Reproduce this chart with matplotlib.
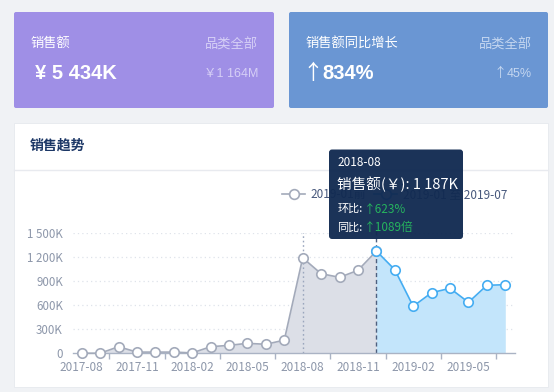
import matplotlib
matplotlib.use("Agg")
import matplotlib.pyplot as plt
from matplotlib.patches import FancyBboxPatch, Rectangle

plt.rcParams['font.family'] = ['Noto Sans CJK SC', 'DejaVu Sans']
NUMFONT = ['Liberation Sans', 'Noto Sans CJK SC', 'DejaVu Sans']

# ---------------- data ----------------
months = ["2017-08", "2017-09", "2017-10", "2017-11", "2017-12", "2018-01",
          "2018-02", "2018-03", "2018-04", "2018-05", "2018-06", "2018-07",
          "2018-08", "2018-09", "2018-10", "2018-11", "2018-12", "2019-01",
          "2019-02", "2019-03", "2019-04", "2019-05", "2019-06", "2019-07"]
sales_k = [1, 1, 82, 15, 15, 15, 5, 82, 99, 124, 112, 164,
           1187, 990, 945, 1032, 1272, 1040, 585, 754, 808, 634, 846, 853]
split_idx = 16  # first index of the second series
series_names = ["2019-01前", "2019-01 至 2019-07"]
y_ticks = [0, 300, 600, 900, 1200, 1500]
y_tick_labels = ["0", "300K", "600K", "900K", "1 200K", "1 500K"]
x_label_step = 3

card_titles = ["销售额", "销售额同比增长"]
card_arrows = ["", "↑"]
card_values = ["¥ 5 434K", "834%"]
card_sub_titles = ["品类全部", "品类全部"]
card_sub_arrows = ["", "↑"]
card_sub_values = ["￥1 164M", "45%"]
panel_title = "销售趋势"

tip_month = "2018-08"
tip_value = "销售额(￥): 1 187K"
tip_mom = "↑623%"
tip_yoy = "↑1089倍"
tip_idx = 12
hover_idx = 16

# ---------------- figure ----------------
W, H = 554, 392
fig = plt.figure(figsize=(W / 100, H / 100), dpi=100)
fig.patch.set_facecolor("#f0f2f5")

bg = fig.add_axes([0, 0, 1, 1], zorder=0)
bg.set_xlim(0, W); bg.set_ylim(H, 0); bg.axis("off")

# cards
card_boxes = [(14, 12, 260, 96, "#9f8fe6", "#d6cff6"), (289, 12, 259, 96, "#6a96d3", "#c4d6f0")]
for i, (x, y, w, h, col, sub) in enumerate(card_boxes):
    bg.add_patch(FancyBboxPatch((x, y), w, h, boxstyle="round,pad=0,rounding_size=2",
                                fc=col, ec="none"))
    bg.text(x + 16, 43, card_titles[i], color="white", fontsize=9.5, va="center", ha="left")
    vx = x + 21
    if card_arrows[i]:
        bg.text(x + 13, 73, card_arrows[i], color="white", fontsize=15, va="center", ha="left")
        vx = x + 33
    bg.text(vx, 73.5, card_values[i], color="white", fontsize=14.5,
            fontweight="bold", va="center", ha="left", family=NUMFONT)
    bg.text(x + w - 16, 45.5, card_sub_titles[i], color=sub, fontsize=9.5, va="center", ha="right")
    t = bg.text(x + w - 16, 73.5, card_sub_values[i], color=sub, fontsize=9, va="center", ha="right",
                family=NUMFONT)
    if card_sub_arrows[i]:
        bg.text(x + w - 41, 73, card_sub_arrows[i], color=sub, fontsize=9.5, va="center", ha="right")

# panel
bg.add_patch(Rectangle((14, 123), 534, 264, fc="white", ec="#e6e9ee", lw=0.6))
bg.plot([14, 548], [169.5, 169.5], color="#e8eaef", lw=1)
bg.text(30, 146, panel_title, color="#1c3766", fontsize=10, fontweight="bold", va="center", ha="left")

# legend (manual)
gray_line = "#a3aaba"
blue_line = "#45adf2"
bg.plot([282, 305], [194, 194], color=gray_line, lw=1.2)
bg.plot([293.5], [194], marker="o", ms=7, mfc="white", mec=gray_line, mew=1.2)
bg.text(310, 194.5, series_names[0], color="#47587c", fontsize=8.5, va="center", ha="left")
bg.plot([374, 397], [194, 194], color=blue_line, lw=1.2)
bg.plot([385.5], [194], marker="o", ms=7, mfc="white", mec=blue_line, mew=1.2)
bg.text(403, 194.5, series_names[1], color="#47587c", fontsize=8.5, va="center", ha="left")

# ---------------- chart ----------------
x0, x1 = 72.5, 514.5
ybot, ytop = 353.3, 232.7
ax = fig.add_axes([x0 / W, 1 - ybot / H, (x1 - x0) / W, (ybot - ytop) / H], zorder=1)
ax.patch.set_alpha(0)
n = len(months)
xs = list(range(n))
ax.set_xlim(-0.5, n - 0.5)
ax.set_ylim(0, 1500)

for s in ["top", "right", "left"]:
    ax.spines[s].set_visible(False)
ax.spines["bottom"].set_color("#aab3c4")
ax.spines["bottom"].set_linewidth(1)

for yv in y_ticks[1:]:
    ax.axhline(yv, color="#dfe3ea", lw=0.9, ls=(0, (1, 2.5)), zorder=0)

ax.set_yticks(y_ticks)
ax.set_yticklabels(y_tick_labels)
ax.tick_params(axis="y", length=0, pad=7, labelsize=8.3, labelcolor="#8d97aa")

lab_pos = xs[::x_label_step]
ax.set_xticks(lab_pos)
ax.set_xticklabels([months[i] for i in lab_pos])
ax.tick_params(axis="x", length=0, pad=5.5, labelsize=8.5, labelcolor="#8d97aa")
minor = [p + 1.5 for p in lab_pos]
ax.set_xticks(minor, minor=True)
ax.tick_params(axis="x", which="minor", length=4, width=1, color="#aab3c4")

gx = xs[:split_idx + 1]; gy = sales_k[:split_idx + 1]
bx = xs[split_idx:]; by = sales_k[split_idx:]
ax.fill_between(gx, gy, 0, color="#dcdfe7", lw=0, zorder=1)
ax.fill_between(bx, by, 0, color="#c3e5fb", lw=0, zorder=1)

ax.axvline(tip_idx, color="#9aa6bd", lw=1, ls=(0, (1.2, 2)), zorder=2, ymax=1.01)
ax.axvline(hover_idx, color="#4e607f", lw=1, ls=(0, (3, 2)), zorder=2, ymax=1.03, clip_on=False)

ax.plot(gx, gy, color=gray_line, lw=1.2, marker="o", ms=6.8, mfc="white", mec=gray_line,
        mew=1.2, zorder=3, clip_on=False)
ax.plot(bx, by, color=blue_line, lw=1.2, marker="o", ms=6.8, mfc="white", mec=blue_line,
        mew=1.2, zorder=4, clip_on=False)

# ---------------- tooltip ----------------
fg = fig.add_axes([0, 0, 1, 1], zorder=3)
fg.set_xlim(0, W); fg.set_ylim(H, 0); fg.axis("off"); fg.patch.set_alpha(0)
fg.add_patch(FancyBboxPatch((329, 149.5), 134, 89.5, boxstyle="round,pad=0,rounding_size=3",
                            fc="#112a51", ec="none", alpha=0.96))
fg.text(337.5, 162.5, tip_month, color="white", fontsize=8.5, va="center", ha="left")
fg.text(337, 184.5, tip_value, color="white", fontsize=10.5, va="center", ha="left")
green = "#26b35e"
fg.text(337.5, 209, "环比:", color="white", fontsize=8, va="center", ha="left")
fg.text(364, 209, tip_mom, color=green, fontsize=8.5, va="center", ha="left")
fg.text(337.5, 227.5, "同比:", color="white", fontsize=8, va="center", ha="left")
fg.text(364, 227.5, tip_yoy, color=green, fontsize=8.5, va="center", ha="left")

fig.savefig("out.png", dpi=100, facecolor=fig.get_facecolor())
